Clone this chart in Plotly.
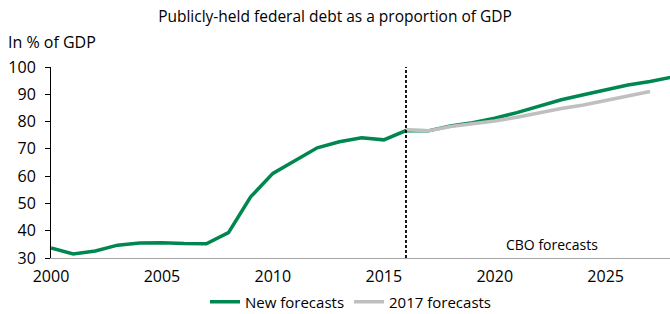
import plotly.graph_objects as go

years_new = list(range(2000, 2029))
new_forecasts = [33.7, 31.5, 32.6, 34.7, 35.5, 35.6, 35.3, 35.2, 39.3, 52.4, 61.0, 65.8,
                 70.4, 72.6, 74.1, 73.3, 76.7, 76.6, 78.4, 79.6, 81.2, 83.3, 85.8, 88.0,
                 89.8, 91.6, 93.4, 94.7, 96.3]
years_2017 = list(range(2016, 2028))
forecasts_2017 = [77.0, 76.6, 78.2, 79.1, 80.2, 81.6, 83.3, 84.8, 86.1, 87.7, 89.4, 91.0]

x_ticks = [2000, 2005, 2010, 2015, 2020, 2025]
y_ticks = [30, 40, 50, 60, 70, 80, 90, 100]
forecast_start = 2016

GREEN = "#00874f"
GRAY = "#bfbfbf"
FONT = "Open Sans"

W, H = 670, 314
ML, MR, MT, MB = 51, 0, 67, 56
PW, PH = W - ML - MR, H - MT - MB

fig = go.Figure()
fig.add_trace(go.Scatter(x=years_new, y=new_forecasts, mode="lines", name="New forecasts",
                         line=dict(color=GREEN, width=3.5)))
fig.add_trace(go.Scatter(x=years_2017, y=forecasts_2017, mode="lines", name="2017 forecasts",
                         line=dict(color=GRAY, width=3.5)))
fig.add_vline(x=forecast_start, line=dict(color="black", width=1.8, dash="3px,2px"))

fig.add_annotation(x=2022.6, y=30, xref="x", yref="y", text="CBO forecasts", showarrow=False,
                   yanchor="bottom", yshift=2, font=dict(family=FONT, size=14, color="black"))
fig.add_annotation(x=(6 - ML) / PW, y=(H - 42 - MB) / PH, xref="paper", yref="paper",
                   text="In % of GDP", showarrow=False, xanchor="left", yanchor="middle",
                   font=dict(family=FONT, size=16, color="black"))

fig.update_layout(
    width=W, height=H,
    margin=dict(l=ML, r=MR, t=MT, b=MB),
    paper_bgcolor="white", plot_bgcolor="white",
    font=dict(family=FONT, size=16, color="black"),
    title=dict(text="Publicly-held federal debt as a proportion of GDP", x=0.5, xanchor="center",
               y=1 - 17 / H, yanchor="middle", font=dict(family=FONT, size=15.5, color="black")),
    showlegend=True,
    legend=dict(orientation="h", xref="container", yref="container", x=351 / W, xanchor="center",
                y=1 - 302 / H, yanchor="middle",
                font=dict(family=FONT, size=15, color="black"), itemwidth=30,
                bgcolor="rgba(0,0,0,0)"),
    xaxis=dict(range=[2000, 2027.9], tickvals=x_ticks, showgrid=False, zeroline=False,
               showline=True, linecolor="#a6a6a6", linewidth=1, ticks="outside", ticklen=4,
               tickcolor="rgba(0,0,0,0)", automargin=False, tickfont=dict(size=16)),
    yaxis=dict(range=[30, 100], tickvals=y_ticks, showgrid=False, zeroline=False,
               showline=True, linecolor="black", linewidth=1, ticks="outside", ticklen=5,
               tickcolor="black", automargin=False, ticklabelstandoff=6, tickfont=dict(size=16)),
)

fig.write_html("out.html", config={"displayModeBar": False},
               post_script="document.body.style.margin='0';document.body.style.overflow='hidden';")
